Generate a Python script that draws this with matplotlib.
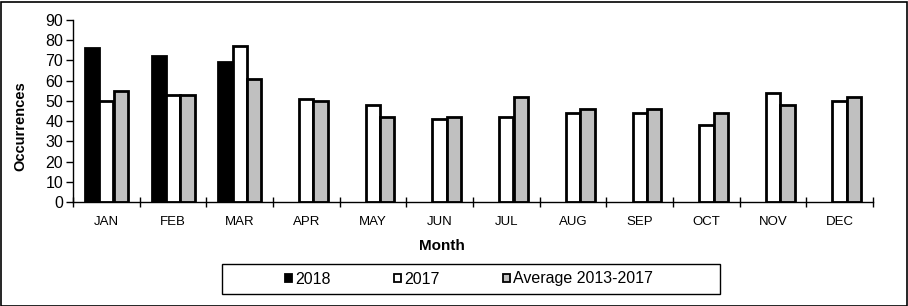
import numpy as np
import matplotlib
matplotlib.use("Agg")
import matplotlib.pyplot as plt
from matplotlib.patches import Rectangle

plt.rcParams['font.family'] = ['Liberation Sans', 'DejaVu Sans']

# data
months = ['JAN', 'FEB', 'MAR', 'APR', 'MAY', 'JUN',
          'JUL', 'AUG', 'SEP', 'OCT', 'NOV', 'DEC']
y2018 = [76, 72, 69, np.nan, np.nan, np.nan, np.nan, np.nan, np.nan, np.nan, np.nan, np.nan]
y2017 = [50, 53, 77, 51, 48, 41, 42, 44, 44, 38, 54, 50]
avg = [55, 53, 61, 50, 42, 42, 52, 46, 46, 44, 48, 52]
series_names = ['2018', '2017', 'Average 2013-2017']

W, H = 908, 306
fig = plt.figure(figsize=(W / 100, H / 100), dpi=100)
ax = fig.add_axes([73 / W, 1 - 202 / H, 800 / W, 182 / H])

x = np.arange(len(months))
w = 0.215
kw = dict(edgecolor='black', linewidth=2, zorder=3)
b1 = ax.bar(x - w, y2018, w, color='black', label=series_names[0], **kw)
b2 = ax.bar(x, y2017, w, color='white', label=series_names[1], **kw)
b3 = ax.bar(x + w, avg, w, color='#c0c0c0', label=series_names[2], **kw)

ax.set_xlim(-0.5, 11.5)
ax.set_ylim(0, 90)
ax.set_yticks(range(0, 91, 10))
ax.set_xticks(x)
ax.set_xticklabels(months, fontsize=9.5)
ax.set_xticks(np.arange(-0.5, 12, 1), minor=True)
ax.tick_params(axis='x', which='major', length=0, pad=10)
ax.tick_params(axis='x', which='minor', direction='inout', length=7, width=1)
ax.tick_params(axis='y', labelsize=11.5, length=5, width=1, pad=2)

for s in ['top', 'right']:
    ax.spines[s].set_visible(False)
for s in ['left', 'bottom']:
    ax.spines[s].set_linewidth(1)
    ax.spines[s].set_zorder(4)

fig.text(20 / W, 1 - 126 / H, 'Occurrences', rotation=90, fontsize=10.5,
         fontweight='bold', ha='center', va='center')
fig.text(442 / W, 1 - 246 / H, 'Month', fontsize=11,
         fontweight='bold', ha='center', va='center')

# legend, box drawn separately
leg = fig.legend(handles=[b1, b2, b3], labels=series_names, ncol=3,
                 loc='center left', bbox_to_anchor=(285 / W, 1 - 279 / H),
                 frameon=False, fontsize=11.5, handlelength=0.45,
                 handleheight=0.45, handletextpad=0.2, columnspacing=3.95,
                 borderpad=0, borderaxespad=0)
for h in leg.legend_handles:
    h.set_linewidth(1.3)
fig.patches.append(Rectangle((222 / W, 1 - 294 / H), 498 / W, 30 / H,
                             transform=fig.transFigure, fill=False,
                             edgecolor='black', linewidth=1))
fig.patches.append(Rectangle((0.5 / W, 0.5 / H), (W - 2) / W, (H - 2) / H,
                             transform=fig.transFigure, fill=False,
                             edgecolor='black', linewidth=1.2))

fig.savefig('out.png', dpi=100)
